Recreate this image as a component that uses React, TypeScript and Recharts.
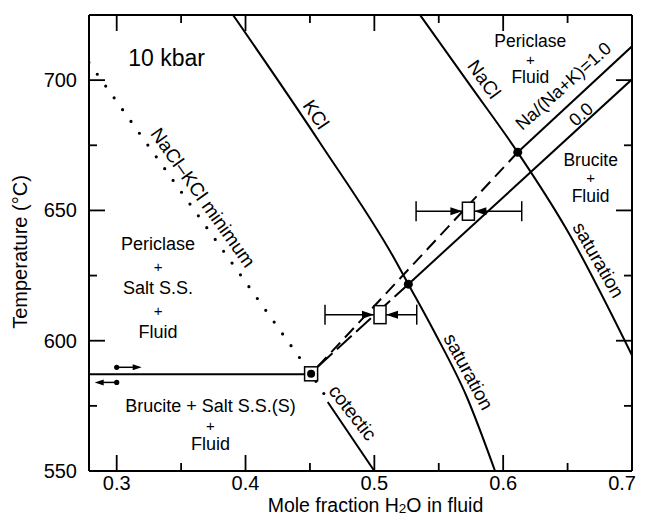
import React from 'react';
import { ComposedChart, Line, Scatter, XAxis, YAxis, ErrorBar, ReferenceLine } from 'recharts';

const FONT = '"Liberation Sans", Arial, Helvetica, sans-serif';

// ---- axis ticks ----
const xTicks = [0.3, 0.35, 0.4, 0.45, 0.5, 0.55, 0.6, 0.65, 0.7];
const yTicks = [550, 575, 600, 625, 650, 675, 700];
const xDomain = [0.2785, 0.7];
const yDomain = [550, 725];

// ---- phase boundaries (x = mole fraction H2O, y = temperature °C) ----
const kclSaturation = [
  { x: 0.3903, y: 725 },
  { x: 0.4579, y: 675.9 },
  { x: 0.5161, y: 631 },
  { x: 0.5264, y: 621.7 },
  { x: 0.5458, y: 604.1 },
  { x: 0.5717, y: 578.5 },
  { x: 0.5937, y: 550 },
];
const naclSaturation = [
  { x: 0.5355, y: 725 },
  { x: 0.5744, y: 698 },
  { x: 0.6113, y: 672.3 },
  { x: 0.6494, y: 642.6 },
  { x: 0.7, y: 594.4 },
];
const minimumDotted = [
  { x: 0.2784, y: 706.8 },
  { x: 0.4509, y: 587.3 },
  { x: 0.4615, y: 579.2 },
];
const cotectic = [
  { x: 0.4638, y: 576.5 },
  { x: 0.5, y: 550 },
];
const eutecticHorizontal = [
  { x: 0.2785, y: 587.1 },
  { x: 0.4509, y: 587.1 },
];
const ratio00Dashed = [
  { x: 0.456, y: 590 },
  { x: 0.5264, y: 621.7 },
];
const ratio00Solid = [
  { x: 0.5264, y: 621.7 },
  { x: 0.7, y: 700.3 },
];
const ratio10Dashed = [
  { x: 0.456, y: 590 },
  { x: 0.6113, y: 672.3 },
];
const ratio10Solid = [
  { x: 0.6113, y: 672.3 },
  { x: 0.7, y: 713 },
];

// ---- points ----
const invariantPoint = [{ x: 0.4509, y: 587.3 }];
const saturationPoints = [
  { x: 0.6113, y: 672.3 },
  { x: 0.5264, y: 621.7 },
];
const experiments = [
  { x: 0.5044, y: 610, ex: [0.0427, 0.0285] },
  { x: 0.573, y: 649.7, ex: [0.0406, 0.0414] },
];
const arrowPoints = [
  { x: 0.3, y: 589.8, dir: 1 },
  { x: 0.3, y: 584, dir: -1 },
];

// ---- text annotations ----
const annotations = [
  { x: 0.3388, y: 708.6, lines: ['10 kbar'], rot: 0, size: 23, lh: 0 },
  { x: 0.3321, y: 620.2, lines: ['Periclase', '+', 'Salt S.S.', '+', 'Fluid'], rot: 0, size: 18, lh: 22 },
  { x: 0.3728, y: 567.6, lines: ['Brucite + Salt S.S.(S)', '+', 'Fluid'], rot: 0, size: 18, lh: 19 },
  { x: 0.6211, y: 708.0, lines: ['Periclase', '+', 'Fluid'], rot: 0, size: 17.5, lh: 18 },
  { x: 0.6679, y: 662.5, lines: ['Brucite', '+', 'Fluid'], rot: 0, size: 17.5, lh: 18 },
  { x: 0.4547, y: 686.8, lines: ['KCl'], rot: 56, size: 19, lh: 0 },
  { x: 0.5852, y: 700.3, lines: ['NaCl'], rot: 54, size: 19, lh: 0 },
  { x: 0.6467, y: 697.7, lines: ['Na/(Na+K)=1.0'], rot: -42, size: 18, lh: 0 },
  { x: 0.6605, y: 686.8, lines: ['0.0'], rot: -42, size: 18, lh: 0 },
  { x: 0.367, y: 654.9, lines: ['NaCl\u2013KCl minimum'], rot: 54.6, size: 19, lh: 0 },
  { x: 0.573, y: 588.1, lines: ['saturation'], rot: 61.7, size: 19, lh: 0 },
  { x: 0.6739, y: 631, lines: ['saturation'], rot: 60, size: 19, lh: 0 },
  { x: 0.4831, y: 572.4, lines: ['cotectic'], rot: 52, size: 19, lh: 0 },
];

const W = 629;
const H = 509;
const M = { top: 7, right: 5, left: 0, bottom: 0 };
const X_AXIS_H = 46;
const Y_AXIS_W = 81;
const PLOT_TOP = M.top;
const PLOT_RIGHT = W - M.right;

const isMajorX = (v: number) => Math.abs(v * 10 - Math.round(v * 10)) < 1e-6;
const isMajorY = (v: number) => Math.abs(v / 50 - Math.round(v / 50)) < 1e-6;

const TICK_W = 1.8;

const BottomTick = (props: any) => {
  const { x, y, payload, top } = props;
  const major = isMajorX(payload.value);
  const len = major ? 16 : 8;
  const last = payload.value >= 0.7 - 1e-9;
  return (
    <g>
      <line x1={x} x2={x} y1={y} y2={y - len} stroke="#000" strokeWidth={TICK_W} />
      <line x1={x} x2={x} y1={top} y2={top + len} stroke="#000" strokeWidth={TICK_W} />
      {major && (
        <text
          x={last ? W - 1 : x}
          y={y + 12}
          textAnchor={last ? 'end' : 'middle'}
          dominantBaseline="central"
          fontSize={20}
          fontFamily={FONT}
          fill="#000"
        >
          {Number(payload.value).toFixed(1)}
        </text>
      )}
    </g>
  );
};
const LeftTick = (props: any) => {
  const { x, y, payload, right } = props;
  const major = isMajorY(payload.value);
  const len = major ? 16 : 8;
  return (
    <g>
      <line x1={x} x2={x + len} y1={y} y2={y} stroke="#000" strokeWidth={TICK_W} />
      <line x1={right} x2={right - len} y1={y} y2={y} stroke="#000" strokeWidth={TICK_W} />
      {major && (
        <text x={x - 12} y={y} textAnchor="end" dominantBaseline="central" fontSize={20} fontFamily={FONT} fill="#000">
          {payload.value}
        </text>
      )}
    </g>
  );
};

const XLabel = (props: any) => {
  const vb = props.viewBox || {};
  const cx = vb.x + vb.width / 2 + 15;
  const cy = vb.y + 34;
  return (
    <text x={cx} y={cy} textAnchor="middle" dominantBaseline="central" fontSize={19.5} fontFamily={FONT} fill="#000">
      Mole fraction H
      <tspan fontSize={13.5} dy={3}>2</tspan>
      <tspan dy={-3}>O in fluid</tspan>
    </text>
  );
};
const YLabel = (props: any) => {
  const vb = props.viewBox || {};
  const cx = 12;
  const cy = vb.y + vb.height / 2 + 9;
  return (
    <text x={cx} y={cy} transform={`rotate(-90 ${cx} ${cy})`} textAnchor="middle" dominantBaseline="central" fontSize={20} fontFamily={FONT} fill="#000">
      Temperature (°C)
    </text>
  );
};

const SquareShape = (props: any) => {
  const { cx, cy } = props;
  const w = 12, h = 18;
  return (
    <g>
      <polygon points={`${cx - 6},${cy} ${cx - 18},${cy - 4} ${cx - 18},${cy + 4}`} fill="#000" />
      <polygon points={`${cx + 6},${cy} ${cx + 18},${cy - 4} ${cx + 18},${cy + 4}`} fill="#000" />
      <rect x={cx - w / 2} y={cy - h / 2} width={w} height={h} fill="#fff" stroke="#000" strokeWidth={1.5} />
    </g>
  );
};
const InvariantShape = (props: any) => {
  const { cx, cy } = props;
  return (
    <g>
      <rect x={cx - 6.5} y={cy - 7} width={13} height={14} fill="#fff" stroke="#000" strokeWidth={1.5} />
      <circle cx={cx} cy={cy} r={4} fill="#000" />
    </g>
  );
};
const DotShape = (props: any) => <circle cx={props.cx} cy={props.cy} r={4.5} fill="#000" />;
const ArrowShape = (props: any) => {
  const { cx, cy, payload } = props;
  const d = payload.dir;
  const len = d > 0 ? 25 : 22;
  const tip = cx + d * len;
  return (
    <g>
      <circle cx={cx} cy={cy} r={2.6} fill="#000" />
      <line x1={cx} x2={tip - d * 8} y1={cy} y2={cy} stroke="#000" strokeWidth={1.5} />
      <polygon points={`${tip},${cy} ${tip - d * 9},${cy - 3} ${tip - d * 9},${cy + 3}`} fill="#000" />
    </g>
  );
};
const TextShape = (props: any) => {
  const { cx, cy, payload } = props;
  const n = payload.lines.length;
  const start = -((n - 1) / 2) * payload.lh;
  return (
    <text
      transform={`rotate(${payload.rot} ${cx} ${cy})`}
      textAnchor="middle"
      fontSize={payload.size}
      fontFamily={FONT}
      fill="#000"
    >
      {payload.lines.map((t: string, i: number) => (
        <tspan
          key={i}
          x={cx}
          y={cy + start + i * payload.lh}
          dominantBaseline="central"
          fontSize={t === '+' ? 15 : payload.size}
        >
          {t}
        </tspan>
      ))}
    </text>
  );
};

const AX = { xAxisId: 'b', yAxisId: 'l' };
const LINE = { stroke: '#000', strokeWidth: 2, dot: false, activeDot: false, isAnimationActive: false, type: 'linear' as const };

export default function App() {
  return (
    <div style={{ width: W, height: H, background: '#fff' }}>
      <ComposedChart width={W} height={H} margin={M}>
        <XAxis
          xAxisId="b"
          type="number"
          dataKey="x"
          domain={xDomain}
          allowDataOverflow
          ticks={xTicks}
          interval={0}
          height={X_AXIS_H}
          tickSize={0}
          tickMargin={0}
          tickLine={false}
          tick={<BottomTick top={PLOT_TOP} />}
          axisLine={{ stroke: '#000', strokeWidth: 2 }}
          label={<XLabel />}
        />
        <YAxis
          yAxisId="l"
          type="number"
          dataKey="y"
          domain={yDomain}
          allowDataOverflow
          ticks={yTicks}
          interval={0}
          width={Y_AXIS_W}
          tickSize={0}
          tickMargin={0}
          tickLine={false}
          tick={<LeftTick right={PLOT_RIGHT} />}
          axisLine={{ stroke: '#000', strokeWidth: 2 }}
          label={<YLabel />}
        />

        <ReferenceLine {...AX} y={yDomain[1]} stroke="#000" strokeWidth={2} />
        <ReferenceLine {...AX} x={xDomain[1]} stroke="#000" strokeWidth={2} />

        <Line {...AX} {...LINE} data={kclSaturation} dataKey="y" type="monotone" />
        <Line {...AX} {...LINE} data={naclSaturation} dataKey="y" type="monotone" />
        <Line {...AX} {...LINE} data={cotectic} dataKey="y" />
        <Line {...AX} {...LINE} data={eutecticHorizontal} dataKey="y" />
        <Line {...AX} {...LINE} data={ratio00Solid} dataKey="y" />
        <Line {...AX} {...LINE} data={ratio10Solid} dataKey="y" />
        <Line {...AX} {...LINE} data={ratio00Dashed} dataKey="y" strokeDasharray="20 6" />
        <Line {...AX} {...LINE} data={ratio10Dashed} dataKey="y" strokeDasharray="13 7" />
        <Line {...AX} {...LINE} data={minimumDotted} dataKey="y" strokeWidth={3.2} strokeLinecap="round" strokeDasharray="0 14.5" />

        <Scatter {...AX} data={experiments} dataKey="y" shape={<SquareShape />} isAnimationActive={false}>
          <ErrorBar dataKey="ex" direction="x" width={10} stroke="#000" strokeWidth={1.5} isAnimationActive={false} />
        </Scatter>
        <Scatter {...AX} data={invariantPoint} dataKey="y" shape={<InvariantShape />} isAnimationActive={false} />
        <Scatter {...AX} data={saturationPoints} dataKey="y" shape={<DotShape />} isAnimationActive={false} />
        <Scatter {...AX} data={arrowPoints} dataKey="y" shape={<ArrowShape />} isAnimationActive={false} />
        <Scatter {...AX} data={annotations} dataKey="y" shape={<TextShape />} isAnimationActive={false} />
      </ComposedChart>
    </div>
  );
}
